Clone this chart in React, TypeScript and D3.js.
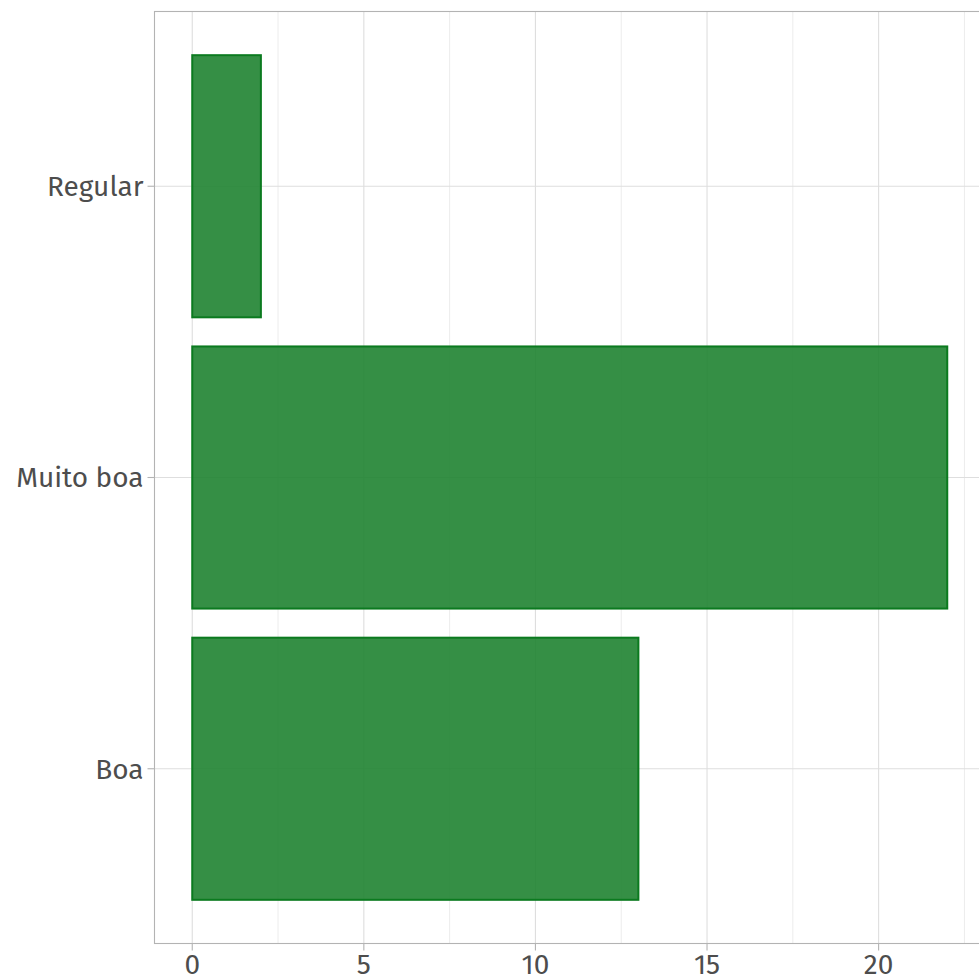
import React from "react";
import * as d3 from "d3";

const categories = ["Boa", "Muito boa", "Regular"];
const values = [13, 22, 2];
const xTicks = [0, 5, 10, 15, 20];
const xMinor = [2.5, 7.5, 12.5, 17.5, 22.5];

export default function App() {
  const W = 979, H = 977;
  const left = 154.5, top = 11.5, bottom = 943.5, right = 985;
  const x = d3.scaleLinear().domain([-1.1, 23.1]).range([left, right]);
  const yc = d3.scaleLinear().domain([0.4, 3.6]).range([bottom, top]);
  const bw = yc(0) - yc(0.9);
  const font = "'Fira Sans', 'Open Sans', 'Noto Sans', sans-serif";
  return (
    <svg width={W} height={H} style={{ position: "absolute", left: 0, top: 0 }} fontFamily={font}>
      <rect width={W} height={H} fill="#fff" />
      <clipPath id="panel"><rect x={left} y={top} width={right - left} height={bottom - top} /></clipPath>
      <g clipPath="url(#panel)">
        {xMinor.map((v) => (
          <line key={"m" + v} x1={x(v)} x2={x(v)} y1={top} y2={bottom} stroke="#ececec" strokeWidth={1} />
        ))}
        {xTicks.map((v) => (
          <line key={"M" + v} x1={x(v)} x2={x(v)} y1={top} y2={bottom} stroke="#dedede" strokeWidth={1.1} />
        ))}
        {categories.map((c, i) => (
          <line key={"h" + c} x1={left} x2={right} y1={yc(i + 1)} y2={yc(i + 1)} stroke="#dedede" strokeWidth={1.1} />
        ))}
        {categories.map((c, i) => (
          <rect key={"b" + c} x={x(0)} y={yc(i + 1) - bw / 2} width={x(values[i]) - x(0)} height={bw}
            fill="#1f8331" fillOpacity={0.9} stroke="#0b7a1f" strokeWidth={2} />
        ))}
      </g>
      <rect x={left} y={top} width={right - left} height={bottom - top} fill="none" stroke="#b3b3b3" strokeWidth={1.1} />
      {categories.map((c, i) => (
        <g key={"yt" + c}>
          <line x1={left - 7} x2={left} y1={yc(i + 1)} y2={yc(i + 1)} stroke="#b3b3b3" strokeWidth={1.1} />
          <text x={left - 11} y={yc(i + 1)} dy="0.35em" textAnchor="end" fontSize={28} fill="#4d4d4d">{c}</text>
        </g>
      ))}
      {xTicks.map((v) => (
        <g key={"xt" + v}>
          <line x1={x(v)} x2={x(v)} y1={bottom} y2={bottom + 7} stroke="#b3b3b3" strokeWidth={1.1} />
          <text x={x(v)} y={974} textAnchor="middle" fontSize={28} fill="#4d4d4d">{v}</text>
        </g>
      ))}
    </svg>
  );
}
